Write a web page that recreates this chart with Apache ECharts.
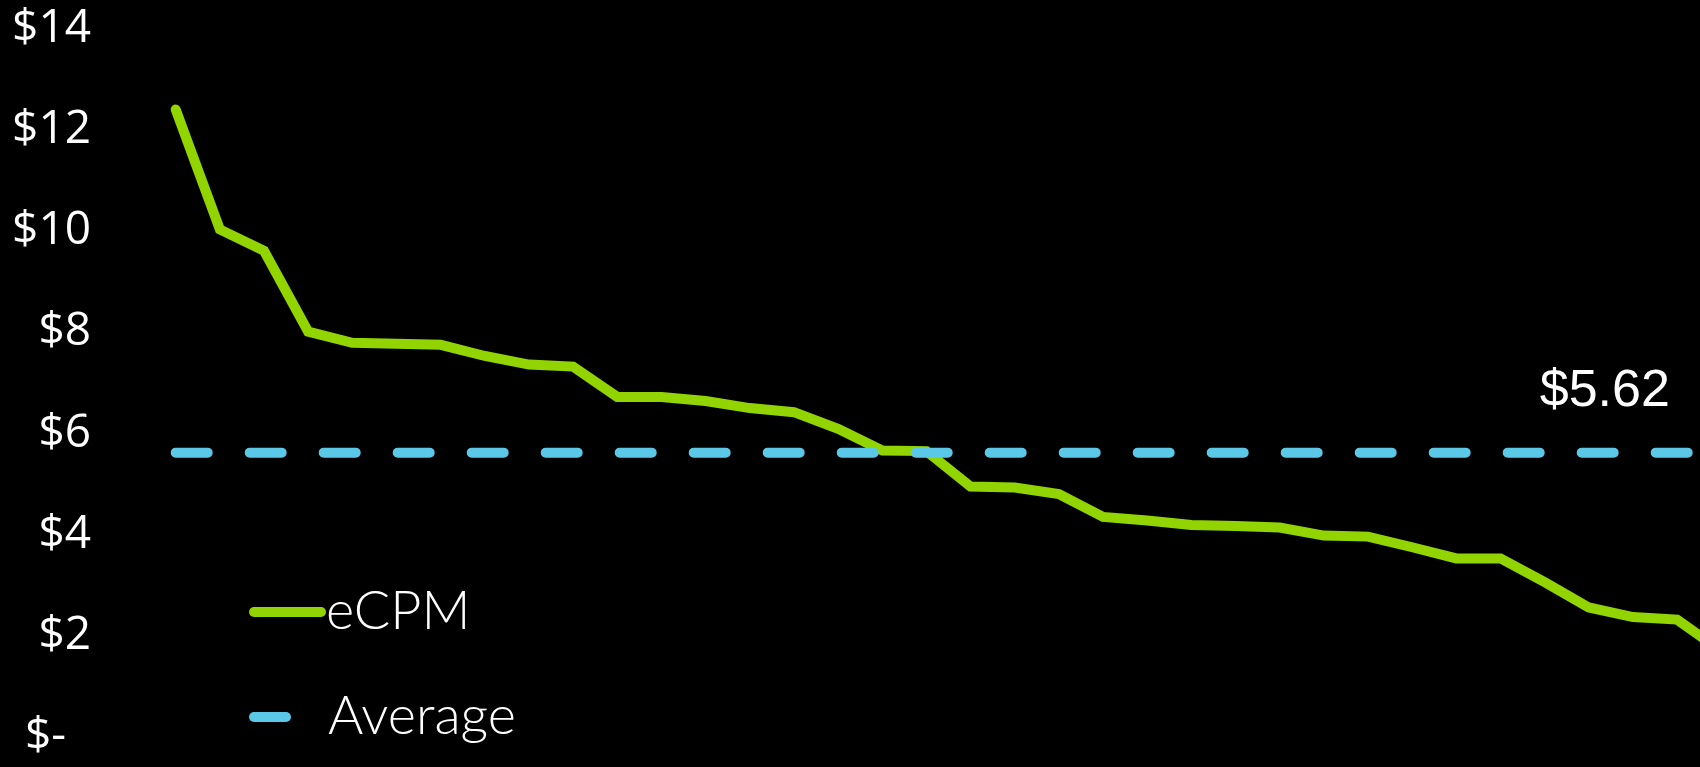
<!DOCTYPE html>
<html>
<head>
<meta charset="utf-8">
<script src="https://cdn.jsdelivr.net/npm/echarts@6/dist/echarts.min.js"></script>
<style>
  html, body { margin: 0; padding: 0; background: #000; overflow: hidden; }
  /* the plot runs past the right edge of the page, so the canvas is a little wider than the view */
  #chart { width: 1730px; height: 767px; }
</style>
</head>
<body>
<div id="chart"></div>
<script>
// Ranked placements, highest eCPM first
const categories = ['1','2','3','4','5','6','7','8','9','10','11','12','13','14','15','16','17','18',
                    '19','20','21','22','23','24','25','26','27','28','29','30','31','32','33','34','35','36'];

// eCPM per placement (USD)
const ecpmValues = [12.40, 10.03, 9.61, 8.01, 7.79, 7.77, 7.75, 7.53, 7.36, 7.32, 6.72, 6.72,
                    6.64, 6.50, 6.42, 6.09, 5.66, 5.65, 4.95, 4.93, 4.80, 4.35, 4.28, 4.19,
                    4.17, 4.14, 3.98, 3.96, 3.75, 3.53, 3.53, 3.06, 2.56, 2.37, 2.32, 1.70];

// Average eCPM across all placements (USD)
const averageValue = 5.62;

// Y axis ticks ($0 .. $14 every $2)
const yTicks = [0, 2, 4, 6, 8, 10, 12, 14];

const GREEN = '#92D400';
const BLUE = '#5BC8E8';
const averageLabelIndex = 32;

const averageData = categories.map((c, i) => i === averageLabelIndex
  ? { value: averageValue, label: { show: true } }
  : averageValue);

const chart = echarts.init(document.getElementById('chart'), null, { renderer: 'canvas' });

const legendText = {
  color: '#fff',
  fontFamily: 'Lato',
  fontWeight: 300,
  fontSize: 54
};

chart.setOption({
  backgroundColor: '#000',
  animation: false,
  grid: { left: 175.7, top: 28.6, width: 1545.6, height: 708.4, containLabel: false },
  xAxis: {
    type: 'category',
    data: categories,
    boundaryGap: false,
    show: false
  },
  yAxis: {
    type: 'value',
    min: yTicks[0],
    max: yTicks[yTicks.length - 1],
    interval: yTicks[1] - yTicks[0],
    axisLine: { show: false },
    axisTick: { show: false },
    splitLine: { show: false },
    axisLabel: {
      margin: 84.7,
      color: '#fff',
      fontFamily: 'Open Sans',
      fontSize: 46,
      formatter: v => v === 0 ? '{z|$-}' : '$' + v,
      rich: {
        z: { color: '#fff', fontFamily: 'Open Sans', fontSize: 46, padding: [0, 25, 0, 0] }
      }
    }
  },
  legend: [
    {
      data: ['eCPM'],
      left: 249,
      top: 585,
      padding: 0,
      itemWidth: 77,
      itemHeight: 10,
      icon: 'path://M5,0 L72,0 A5,5 0 0 1 72,10 L5,10 A5,5 0 0 1 5,0 Z',
      itemStyle: { borderWidth: 0 },
      textStyle: Object.assign({ padding: [0, 0, 0, -5] }, legendText),
      selectedMode: false
    },
    {
      data: ['Average'],
      left: 249,
      top: 690,
      padding: 0,
      itemWidth: 42,
      itemHeight: 10,
      icon: 'path://M5,0 L37,0 A5,5 0 0 1 37,10 L5,10 A5,5 0 0 1 5,0 Z',
      itemStyle: { borderWidth: 0 },
      textStyle: Object.assign({ padding: [0, 0, 0, 32] }, legendText),
      selectedMode: false
    }
  ],
  series: [
    {
      name: 'eCPM',
      type: 'line',
      data: ecpmValues,
      symbol: 'none',
      color: GREEN,
      lineStyle: { color: GREEN, width: 10, cap: 'round', join: 'miter' },
      emphasis: { disabled: true },
      z: 2
    },
    {
      name: 'Average',
      type: 'line',
      data: averageData,
      symbol: 'circle',
      symbolSize: 0,
      showSymbol: true,
      color: BLUE,
      lineStyle: { color: BLUE, width: 10, type: [32, 42], cap: 'round' },
      label: {
        show: false,
        position: 'top',
        distance: 0,
        offset: [16, -35],
        color: '#fff',
        fontFamily: 'Liberation Sans',
        fontSize: 52,
        formatter: p => '$' + p.value.toFixed(2)
      },
      emphasis: { disabled: true },
      z: 3
    }
  ]
});
</script>
</body>
</html>
